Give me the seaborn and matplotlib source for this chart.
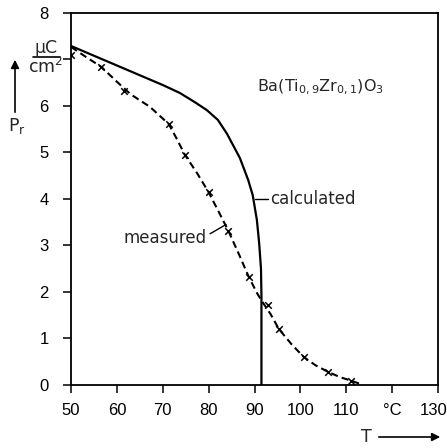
import matplotlib
matplotlib.use("Agg")
import matplotlib.pyplot as plt
from matplotlib import font_manager
from matplotlib.transforms import ScaledTranslation
import seaborn as sns
import pandas as pd

# calculated curve (solid)
calc_T = [50, 55, 60, 65, 70, 73.7, 77, 79.6, 82, 84, 86.8, 88.6, 89.6, 90.5, 91.0, 91.4, 91.5, 91.5]
calc_P = [7.29, 7.08, 6.87, 6.66, 6.45, 6.28, 6.08, 5.91, 5.70, 5.40, 4.88, 4.41, 4.08, 3.55, 3.05, 2.5, 1.9, 0.0]

# measured points (x markers)
meas_T = [50, 56.6, 61.6, 71.3, 74.8, 80, 84.3, 88.7, 92.9, 95.3, 100.7, 106, 111]
meas_P = [7.10, 6.83, 6.32, 5.61, 4.95, 4.14, 3.31, 2.33, 1.72, 1.20, 0.60, 0.28, 0.09]

# measured dashed trend line
trend_T = [50, 53, 56.6, 60, 63, 67.2, 71.3, 73, 74.8, 77.5, 80, 82.2, 84.3, 86.5, 88.7,
           90.5, 91.6, 93.5, 95.3, 98, 100.7, 103.3, 106, 108.5, 111, 113.6]
trend_P = [7.27, 7.07, 6.84, 6.52, 6.25, 5.98, 5.61, 5.30, 4.95, 4.55, 4.14, 3.72, 3.31, 2.83, 2.33,
           1.98, 1.80, 1.52, 1.20, 0.88, 0.60, 0.42, 0.28, 0.17, 0.09, 0.0]

x_ticks = [50, 60, 70, 80, 90, 100, 110, 120, 130]
x_labels = ["50", "60", "70", "80", "90", "100", "110", "°C", "130"]
y_ticks = [0, 1, 2, 3, 4, 5, 6, 7, 8]
y_labels = ["0", "1", "2", "3", "4", "5", "6", "", "8"]

sns.set_theme(style="ticks")
plt.rcParams['font.family'] = ['DejaVu Sans']
installed = {f.name for f in font_manager.fontManager.ttflist}
tick_family = 'Liberation Sans Narrow' if 'Liberation Sans Narrow' in installed else 'Liberation Sans'
tick_size = 14 if tick_family == 'Liberation Sans Narrow' else 12

fig = plt.figure(figsize=(4.47, 4.48), dpi=100)
ax = fig.add_axes([0.159, 0.141, 0.821, 0.830])

df_calc = pd.DataFrame({"T": calc_T, "P": calc_P})
df_trend = pd.DataFrame({"T": trend_T, "P": trend_P})
df_meas = pd.DataFrame({"T": meas_T, "P": meas_P})

sns.lineplot(data=df_calc, x="T", y="P", sort=False, estimator=None, ax=ax,
             color="black", linewidth=1.6)
sns.lineplot(data=df_trend, x="T", y="P", sort=False, estimator=None, ax=ax,
             color="black", linewidth=1.5, linestyle=(0, (3.4, 2.0)))
sns.scatterplot(data=df_meas, x="T", y="P", ax=ax, marker="x", color="black",
                s=22, linewidth=1.1, zorder=5)

ax.set_xlim(50, 130)
ax.set_ylim(0, 8)
ax.set_xticks(x_ticks)
ax.set_xticklabels(x_labels, family=tick_family, fontsize=tick_size)
ax.set_yticks(y_ticks)
ax.set_yticklabels(y_labels, family=tick_family, fontsize=tick_size)
ax.set_xlabel("")
ax.set_ylabel("")
for s in ax.spines.values():
    s.set_linewidth(1.3)
    s.set_color("black")
ax.tick_params(axis="both", direction="out", length=6, width=1.1, pad=7, colors="black")
ax.tick_params(axis="y", pad=10)
last = ax.get_xticklabels()[-1]
last.set_transform(last.get_transform() + ScaledTranslation(-4 / 100, 0, fig.dpi_scale_trans))

# annotations
ax.text(90.5, 6.39, r"Ba(Ti$_{0,9}$Zr$_{0,1}$)O$_3$", fontsize=11.5, va="center", ha="left")
ax.plot([90.1, 92.9], [4.0, 4.0], color="black", lw=1.0)
ax.text(93.4, 4.0, "calculated", fontsize=12, va="center", ha="left")
ax.plot([80.3, 83.8], [3.25, 3.45], color="black", lw=1.0)
ax.text(79.6, 3.15, "measured", fontsize=12, va="center", ha="right")

# y unit and label (outside axes)
fig.text(46 / 447, 1 - 48 / 448, "μC", fontsize=12.5, ha="center", va="center")
fig.add_artist(plt.Line2D([33 / 447, 60 / 447], [1 - 57 / 448, 1 - 57 / 448],
                          transform=fig.transFigure, color="black", lw=1.2))
fig.text(46 / 447, 1 - 67 / 448, "cm$^2$", fontsize=12.5, ha="center", va="center")
ax.annotate("", xy=(15 / 447, 1 - 57 / 448), xytext=(15 / 447, 1 - 115 / 448),
            xycoords="figure fraction", textcoords="figure fraction",
            arrowprops=dict(arrowstyle="-|>", color="black", lw=1.2, mutation_scale=12))
fig.text(17 / 447, 1 - 126 / 448, r"P$_\mathsf{r}$", fontsize=12.5, ha="center", va="center")

# x label
fig.text(366 / 447, 1 - 437 / 448, "T", fontsize=12.5, ha="center", va="center")
ax.annotate("", xy=(443 / 447, 1 - 437 / 448), xytext=(376 / 447, 1 - 437 / 448),
            xycoords="figure fraction", textcoords="figure fraction",
            arrowprops=dict(arrowstyle="-|>", color="black", lw=1.2, mutation_scale=12))

fig.savefig("out.png", dpi=100)
